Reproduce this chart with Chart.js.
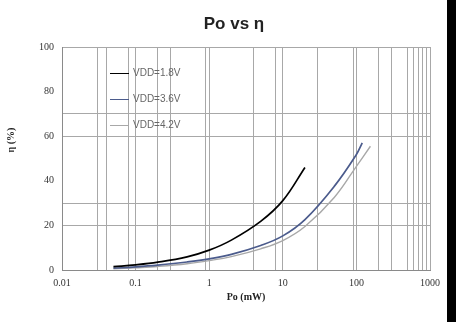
<!DOCTYPE html>
<html>
<head>
<meta charset="utf-8">
<script src="https://cdn.jsdelivr.net/npm/chart.js@4/dist/chart.umd.min.js"></script>
<style>
  html, body { margin: 0; padding: 0; background: #000; }
  #wrap { position: relative; width: 447px; height: 322px; background: #fff; }
  #title { position: absolute; left: 0; top: 14px; width: 468px; text-align: center;
           font: bold 17px "Liberation Sans", Arial, sans-serif; color: #222; }
  #ytitle { position: absolute; left: 10px; top: 140px; transform: translate(-50%, -50%) rotate(-90deg);
            font: bold 10px "Liberation Serif", "Times New Roman", serif; color: #222; white-space: nowrap; }
  #legend { position: absolute; left: 110px; top: 67px; font: 10px "Liberation Sans", Arial, sans-serif; color: #666; }
  #legend div { height: 26px; display: flex; align-items: flex-start; }
  #legend span.ln { display: inline-block; width: 19px; margin-top: 6px; margin-right: 4px; }
</style>
</head>
<body>
<div id="wrap">
  <canvas id="chart" width="447" height="322"></canvas>
  <div id="title">Po vs η</div>
  <div id="ytitle">η (%)</div>
  <div id="legend"></div>
</div>
<script>
// 数据：输出功率 Po (mW) 与效率 η (%)
const seriesNames = ['VDD=1.8V', 'VDD=3.6V', 'VDD=4.2V'];
const seriesColors = ['#000000', '#4b5b8c', '#a8a8a8'];

const po18 = [0.05, 0.1, 0.2, 0.5, 1, 2, 5, 10, 20];
const eta18 = [1.5, 2.3, 3.5, 5.9, 8.9, 13.4, 21.8, 31.1, 46];

const po36 = [0.05, 0.1, 0.2, 0.5, 1, 2, 5, 10, 20, 50, 100, 120];
const eta36 = [0.8, 1.4, 2.2, 3.6, 5, 7, 11, 15.3, 22.6, 37.5, 51.8, 57];

const po42 = [0.05, 0.1, 0.2, 0.5, 1, 2, 5, 10, 20, 50, 100, 155];
const eta42 = [0.5, 1.0, 1.6, 2.8, 4.2, 6.0, 9.5, 13.2, 19.5, 32.5, 46.5, 55.5];

// 坐标轴刻度
const xTickValues = [0.01, 0.03, 0.04, 0.08, 0.1, 0.2, 0.3, 0.9, 1, 4, 8, 10, 30, 90, 100, 200, 300, 500, 600, 700, 800, 900, 1000];
const xTickLabels = { 0.01: '0.01', 0.1: '0.1', 1: '1', 10: '10', 100: '100', 1000: '1000' };
const yGridValues = [20, 30, 60, 70, 100];

const pos = [po18, po36, po42];
const etas = [eta18, eta36, eta42];

const datasets = seriesNames.map((name, i) => ({
    label: name,
    data: pos[i].map((x, j) => ({ x: x, y: etas[i][j] })),
    borderColor: seriesColors[i],
    borderWidth: i === 2 ? 1.4 : 1.7,
    pointRadius: 0,
    fill: false,
    tension: 0.4
}));

// 图例
const legend = document.getElementById('legend');
seriesNames.forEach((name, i) => {
    const row = document.createElement('div');
    row.innerHTML = '<span class="ln" style="border-top:1px solid ' + seriesColors[i] + '"></span>' + name;
    legend.appendChild(row);
});

const ctx = document.getElementById('chart').getContext('2d');
new Chart(ctx, {
    type: 'line',
    data: { datasets: datasets },
    options: {
        responsive: false,
        animation: false,
        layout: { padding: { left: 0, right: 11, top: 47, bottom: 0 } },
        plugins: { legend: { display: false }, tooltip: { enabled: false } },
        scales: {
            x: {
                type: 'logarithmic',
                min: 0.01,
                max: 1000,
                afterBuildTicks: scale => {
                    scale.ticks = xTickValues.map(v => ({ value: v }));
                },
                afterFit: scale => { scale.height = 52; },
                ticks: {
                    autoSkip: false,
                    maxRotation: 0,
                    padding: 7,
                    color: '#333',
                    font: { family: '"Liberation Serif", "Times New Roman", serif', size: 10 },
                    callback: value => xTickLabels[value] || ''
                },
                grid: {
                    drawTicks: false,
                    color: '#a8a8a8'
                },
                border: { color: '#8a8a8a' },
                title: {
                    display: true,
                    text: 'Po (mW)',
                    color: '#222',
                    font: { family: '"Liberation Serif", "Times New Roman", serif', size: 10, weight: 'bold' },
                    padding: { top: 0, bottom: 19 }
                }
            },
            y: {
                min: 0,
                max: 100,
                afterFit: scale => { scale.width = 62; },
                ticks: {
                    stepSize: 10,
                    padding: 8,
                    color: '#333',
                    font: { family: '"Liberation Serif", "Times New Roman", serif', size: 10 },
                    callback: value => (value % 20 === 0 ? value : '')
                },
                grid: {
                    drawTicks: false,
                    color: c => (yGridValues.includes(c.tick.value) ? '#a8a8a8' : 'rgba(0,0,0,0)')
                },
                border: { color: '#8a8a8a' }
            }
        }
    }
});
</script>
</body>
</html>
